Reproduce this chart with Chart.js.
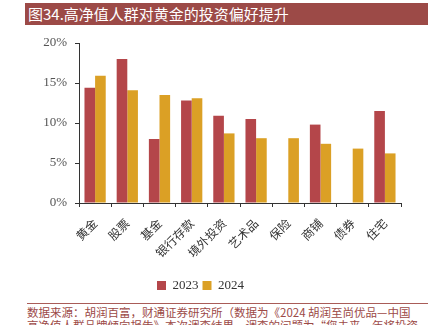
<!DOCTYPE html>
<html><head><meta charset="utf-8">
<script src="https://cdn.jsdelivr.net/npm/chart.js@4/dist/chart.umd.min.js"></script>
<style>
html,body{margin:0;padding:0;background:#fff;width:441px;height:325px;overflow:hidden;position:relative}
#title{position:absolute;left:25px;top:3px;width:403px;height:22px;background:#9c4a47;color:#fff;font-family:"Noto Sans CJK SC",sans-serif;font-size:15px;line-height:22px;padding-left:3px;box-sizing:border-box;white-space:nowrap}
#wrap{position:absolute;left:0;top:0;width:441px;height:302px}
#rule{position:absolute;left:27px;top:303px;width:401px;height:1px;background:#a95c58}
#foot{position:absolute;left:27px;top:306px;width:410px;color:#9c4a47;font-family:"Noto Sans CJK SC",sans-serif;font-size:11.5px;line-height:13px;white-space:nowrap}
</style></head>
<body>
<div id="title">图34.高净值人群对黄金的投资偏好提升</div>
<div id="wrap"><canvas id="c" width="441" height="302"></canvas></div>
<div id="rule"></div>
<div id="foot">数据来源：胡润百富，财通证券研究所（数据为《2024 胡润至尚优品—中国<br>高净值人群品牌倾向报告》本次调查结果，调查的问题为“您未来一年将投资</div>
<script>
const categories = ["黄金","股票","基金","银行存款","境外投资","艺术品","保险","商铺","债券","住宅"];
const series2023 = [14.4, 18.0, 8.0, 12.8, 10.9, 10.5, null, 9.8, null, 11.5];
const series2024 = [15.9, 14.1, 13.5, 13.1, 8.7, 8.1, 8.1, 7.4, 6.8, 6.2];
const seriesNames = ["2023","2024"];
const yTicks = [0,5,10,15,20];

new Chart(document.getElementById('c'), {
  type: 'bar',
  data: {
    labels: categories,
    datasets: [
      {label: seriesNames[0], data: series2023, backgroundColor: '#b4464a', categoryPercentage: 0.66, barPercentage: 1.0},
      {label: seriesNames[1], data: series2024, backgroundColor: '#dba025', categoryPercentage: 0.66, barPercentage: 1.0}
    ]
  },
  options: {
    responsive: false,
    animation: false,
    layout: {padding: {left: 0, right: 40, top: 43, bottom: 0}},
    plugins: {
      tooltip: {enabled: false},
      legend: {
        position: 'bottom',
        labels: {boxWidth: 9, boxHeight: 9, padding: 4, color: '#333', font: {family: 'Liberation Serif', size: 13}}
      }
    },
    scales: {
      x: {
        grid: {display: true, drawOnChartArea: false, drawTicks: true, tickLength: 4, color: '#333', offset: true},
        border: {display: true, color: '#333', width: 1},
        ticks: {color: '#333', minRotation: 45, maxRotation: 45, padding: 9, font: {family: 'Noto Sans CJK SC', size: 12}},
        afterFit: (s) => { s.height = 72; }
      },
      y: {
        min: 0, max: 20,
        afterBuildTicks: (s) => { s.ticks = yTicks.map(v => ({value: v})); },
        grid: {display: true, drawOnChartArea: false, drawTicks: true, tickLength: 4, color: '#333'},
        border: {display: true, color: '#333', width: 1},
        ticks: {color: '#555', padding: 8, font: {family: 'Liberation Serif', size: 13}, callback: (v) => v + '%'},
        afterFit: (s) => { s.width = 79; }
      }
    }
  }
});
</script>
</body></html>
